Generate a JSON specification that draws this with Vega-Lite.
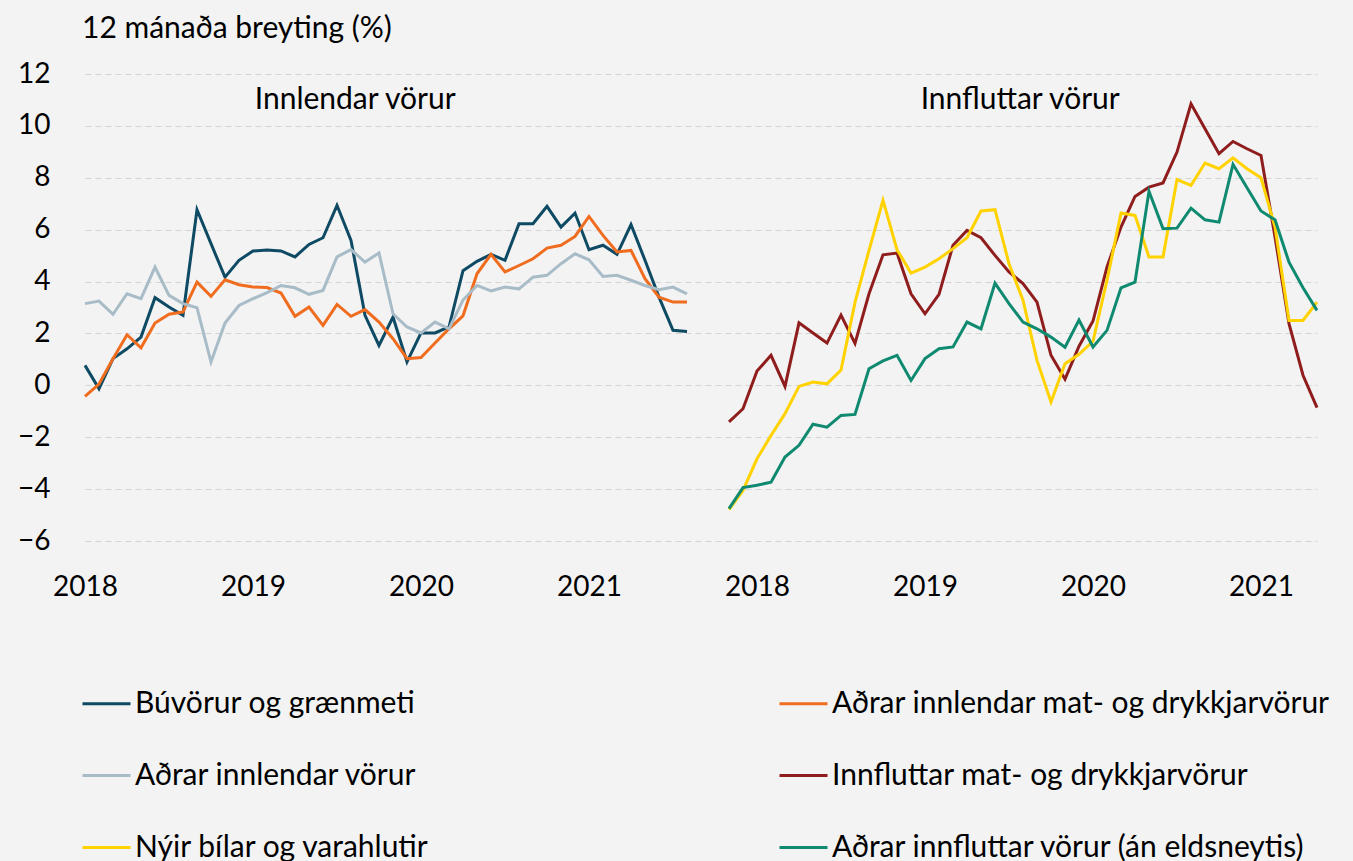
{
  "$schema": "https://vega.github.io/schema/vega-lite/v6.json",
  "width": 1232,
  "height": 493,
  "autosize": {"type": "none"},
  "padding": {"left": 85, "top": 74, "right": 36, "bottom": 294},
  "background": "#f3f3f3",
  "title": {"text": "12 mánaða breyting (%)", "anchor": "start", "frame": "group", "dx": -3, "offset": 16, "fontSize": 30, "font": "Lato", "fontWeight": "normal", "color": "#000000"},
  "config": {
    "view": {"stroke": null},
    "font": "Lato",
    "axis": {"labelFont": "Lato", "labelFontSize": 28, "labelColor": "#000000", "ticks": false, "domain": false, "title": null, "labelFlush": false},
    "legend": {"orient": "none", "legendX": -4, "legendY": 604, "columns": 2, "columnPadding": 343, "rowPadding": 31, "labelFont": "Lato", "labelFontSize": 30, "labelColor": "#000000", "symbolType": "stroke", "symbolSize": 2304, "symbolStrokeWidth": 3, "labelOffset": 3, "title": null, "padding": 0, "labelLimit": 700}
  },
  "datasets": {
    "series": [
      {"p":"inn","s":"Búvörur og grænmeti","m":0,"v":0.77},{"p":"inn","s":"Búvörur og grænmeti","m":1,"v":-0.13},{"p":"inn","s":"Búvörur og grænmeti","m":2,"v":1.03},{"p":"inn","s":"Búvörur og grænmeti","m":3,"v":1.41},{"p":"inn","s":"Búvörur og grænmeti","m":4,"v":1.86},{"p":"inn","s":"Búvörur og grænmeti","m":5,"v":3.38},{"p":"inn","s":"Búvörur og grænmeti","m":6,"v":3.02},{"p":"inn","s":"Búvörur og grænmeti","m":7,"v":2.7},{"p":"inn","s":"Búvörur og grænmeti","m":8,"v":6.77},{"p":"inn","s":"Búvörur og grænmeti","m":9,"v":5.46},{"p":"inn","s":"Búvörur og grænmeti","m":10,"v":4.17},{"p":"inn","s":"Búvörur og grænmeti","m":11,"v":4.82},{"p":"inn","s":"Búvörur og grænmeti","m":12,"v":5.18},{"p":"inn","s":"Búvörur og grænmeti","m":13,"v":5.22},{"p":"inn","s":"Búvörur og grænmeti","m":14,"v":5.18},{"p":"inn","s":"Búvörur og grænmeti","m":15,"v":4.95},{"p":"inn","s":"Búvörur og grænmeti","m":16,"v":5.43},{"p":"inn","s":"Búvörur og grænmeti","m":17,"v":5.69},{"p":"inn","s":"Búvörur og grænmeti","m":18,"v":6.94},{"p":"inn","s":"Búvörur og grænmeti","m":19,"v":5.59},{"p":"inn","s":"Búvörur og grænmeti","m":20,"v":2.7},{"p":"inn","s":"Búvörur og grænmeti","m":21,"v":1.54},{"p":"inn","s":"Búvörur og grænmeti","m":22,"v":2.63},{"p":"inn","s":"Búvörur og grænmeti","m":23,"v":0.9},{"p":"inn","s":"Búvörur og grænmeti","m":24,"v":2.02},{"p":"inn","s":"Búvörur og grænmeti","m":25,"v":2.02},{"p":"inn","s":"Búvörur og grænmeti","m":26,"v":2.25},{"p":"inn","s":"Búvörur og grænmeti","m":27,"v":4.42},{"p":"inn","s":"Búvörur og grænmeti","m":28,"v":4.78},{"p":"inn","s":"Búvörur og grænmeti","m":29,"v":5.05},{"p":"inn","s":"Búvörur og grænmeti","m":30,"v":4.82},{"p":"inn","s":"Búvörur og grænmeti","m":31,"v":6.23},{"p":"inn","s":"Búvörur og grænmeti","m":32,"v":6.23},{"p":"inn","s":"Búvörur og grænmeti","m":33,"v":6.9},{"p":"inn","s":"Búvörur og grænmeti","m":34,"v":6.1},{"p":"inn","s":"Búvörur og grænmeti","m":35,"v":6.64},{"p":"inn","s":"Búvörur og grænmeti","m":36,"v":5.23},{"p":"inn","s":"Búvörur og grænmeti","m":37,"v":5.4},{"p":"inn","s":"Búvörur og grænmeti","m":38,"v":5.05},{"p":"inn","s":"Búvörur og grænmeti","m":39,"v":6.2},{"p":"inn","s":"Búvörur og grænmeti","m":40,"v":4.82},{"p":"inn","s":"Búvörur og grænmeti","m":41,"v":3.4},{"p":"inn","s":"Búvörur og grænmeti","m":42,"v":2.12},{"p":"inn","s":"Búvörur og grænmeti","m":43,"v":2.08},
      {"p":"inn","s":"Aðrar innlendar mat- og drykkjarvörur","m":0,"v":-0.42},{"p":"inn","s":"Aðrar innlendar mat- og drykkjarvörur","m":1,"v":0.05},{"p":"inn","s":"Aðrar innlendar mat- og drykkjarvörur","m":2,"v":1.03},{"p":"inn","s":"Aðrar innlendar mat- og drykkjarvörur","m":3,"v":1.95},{"p":"inn","s":"Aðrar innlendar mat- og drykkjarvörur","m":4,"v":1.45},{"p":"inn","s":"Aðrar innlendar mat- og drykkjarvörur","m":5,"v":2.4},{"p":"inn","s":"Aðrar innlendar mat- og drykkjarvörur","m":6,"v":2.74},{"p":"inn","s":"Aðrar innlendar mat- og drykkjarvörur","m":7,"v":2.83},{"p":"inn","s":"Aðrar innlendar mat- og drykkjarvörur","m":8,"v":3.98},{"p":"inn","s":"Aðrar innlendar mat- og drykkjarvörur","m":9,"v":3.43},{"p":"inn","s":"Aðrar innlendar mat- og drykkjarvörur","m":10,"v":4.07},{"p":"inn","s":"Aðrar innlendar mat- og drykkjarvörur","m":11,"v":3.88},{"p":"inn","s":"Aðrar innlendar mat- og drykkjarvörur","m":12,"v":3.79},{"p":"inn","s":"Aðrar innlendar mat- og drykkjarvörur","m":13,"v":3.77},{"p":"inn","s":"Aðrar innlendar mat- og drykkjarvörur","m":14,"v":3.56},{"p":"inn","s":"Aðrar innlendar mat- og drykkjarvörur","m":15,"v":2.66},{"p":"inn","s":"Aðrar innlendar mat- og drykkjarvörur","m":16,"v":3.02},{"p":"inn","s":"Aðrar innlendar mat- og drykkjarvörur","m":17,"v":2.31},{"p":"inn","s":"Aðrar innlendar mat- og drykkjarvörur","m":18,"v":3.12},{"p":"inn","s":"Aðrar innlendar mat- og drykkjarvörur","m":19,"v":2.66},{"p":"inn","s":"Aðrar innlendar mat- og drykkjarvörur","m":20,"v":2.92},{"p":"inn","s":"Aðrar innlendar mat- og drykkjarvörur","m":21,"v":2.44},{"p":"inn","s":"Aðrar innlendar mat- og drykkjarvörur","m":22,"v":1.8},{"p":"inn","s":"Aðrar innlendar mat- og drykkjarvörur","m":23,"v":1.03},{"p":"inn","s":"Aðrar innlendar mat- og drykkjarvörur","m":24,"v":1.07},{"p":"inn","s":"Aðrar innlendar mat- og drykkjarvörur","m":25,"v":1.63},{"p":"inn","s":"Aðrar innlendar mat- og drykkjarvörur","m":26,"v":2.18},{"p":"inn","s":"Aðrar innlendar mat- og drykkjarvörur","m":27,"v":2.68},{"p":"inn","s":"Aðrar innlendar mat- og drykkjarvörur","m":28,"v":4.3},{"p":"inn","s":"Aðrar innlendar mat- og drykkjarvörur","m":29,"v":5.05},{"p":"inn","s":"Aðrar innlendar mat- og drykkjarvörur","m":30,"v":4.37},{"p":"inn","s":"Aðrar innlendar mat- og drykkjarvörur","m":31,"v":4.62},{"p":"inn","s":"Aðrar innlendar mat- og drykkjarvörur","m":32,"v":4.88},{"p":"inn","s":"Aðrar innlendar mat- og drykkjarvörur","m":33,"v":5.29},{"p":"inn","s":"Aðrar innlendar mat- og drykkjarvörur","m":34,"v":5.4},{"p":"inn","s":"Aðrar innlendar mat- og drykkjarvörur","m":35,"v":5.74},{"p":"inn","s":"Aðrar innlendar mat- og drykkjarvörur","m":36,"v":6.51},{"p":"inn","s":"Aðrar innlendar mat- og drykkjarvörur","m":37,"v":5.78},{"p":"inn","s":"Aðrar innlendar mat- og drykkjarvörur","m":38,"v":5.14},{"p":"inn","s":"Aðrar innlendar mat- og drykkjarvörur","m":39,"v":5.2},{"p":"inn","s":"Aðrar innlendar mat- og drykkjarvörur","m":40,"v":4.11},{"p":"inn","s":"Aðrar innlendar mat- og drykkjarvörur","m":41,"v":3.4},{"p":"inn","s":"Aðrar innlendar mat- og drykkjarvörur","m":42,"v":3.21},{"p":"inn","s":"Aðrar innlendar mat- og drykkjarvörur","m":43,"v":3.21},
      {"p":"inn","s":"Aðrar innlendar vörur","m":0,"v":3.15},{"p":"inn","s":"Aðrar innlendar vörur","m":1,"v":3.25},{"p":"inn","s":"Aðrar innlendar vörur","m":2,"v":2.74},{"p":"inn","s":"Aðrar innlendar vörur","m":3,"v":3.53},{"p":"inn","s":"Aðrar innlendar vörur","m":4,"v":3.34},{"p":"inn","s":"Aðrar innlendar vörur","m":5,"v":4.56},{"p":"inn","s":"Aðrar innlendar vörur","m":6,"v":3.47},{"p":"inn","s":"Aðrar innlendar vörur","m":7,"v":3.15},{"p":"inn","s":"Aðrar innlendar vörur","m":8,"v":2.99},{"p":"inn","s":"Aðrar innlendar vörur","m":9,"v":0.9},{"p":"inn","s":"Aðrar innlendar vörur","m":10,"v":2.4},{"p":"inn","s":"Aðrar innlendar vörur","m":11,"v":3.08},{"p":"inn","s":"Aðrar innlendar vörur","m":12,"v":3.34},{"p":"inn","s":"Aðrar innlendar vörur","m":13,"v":3.57},{"p":"inn","s":"Aðrar innlendar vörur","m":14,"v":3.85},{"p":"inn","s":"Aðrar innlendar vörur","m":15,"v":3.76},{"p":"inn","s":"Aðrar innlendar vörur","m":16,"v":3.51},{"p":"inn","s":"Aðrar innlendar vörur","m":17,"v":3.66},{"p":"inn","s":"Aðrar innlendar vörur","m":18,"v":4.95},{"p":"inn","s":"Aðrar innlendar vörur","m":19,"v":5.23},{"p":"inn","s":"Aðrar innlendar vörur","m":20,"v":4.75},{"p":"inn","s":"Aðrar innlendar vörur","m":21,"v":5.1},{"p":"inn","s":"Aðrar innlendar vörur","m":22,"v":2.76},{"p":"inn","s":"Aðrar innlendar vörur","m":23,"v":2.25},{"p":"inn","s":"Aðrar innlendar vörur","m":24,"v":2.02},{"p":"inn","s":"Aðrar innlendar vörur","m":25,"v":2.44},{"p":"inn","s":"Aðrar innlendar vörur","m":26,"v":2.18},{"p":"inn","s":"Aðrar innlendar vörur","m":27,"v":3.29},{"p":"inn","s":"Aðrar innlendar vörur","m":28,"v":3.85},{"p":"inn","s":"Aðrar innlendar vörur","m":29,"v":3.64},{"p":"inn","s":"Aðrar innlendar vörur","m":30,"v":3.79},{"p":"inn","s":"Aðrar innlendar vörur","m":31,"v":3.72},{"p":"inn","s":"Aðrar innlendar vörur","m":32,"v":4.17},{"p":"inn","s":"Aðrar innlendar vörur","m":33,"v":4.24},{"p":"inn","s":"Aðrar innlendar vörur","m":34,"v":4.69},{"p":"inn","s":"Aðrar innlendar vörur","m":35,"v":5.07},{"p":"inn","s":"Aðrar innlendar vörur","m":36,"v":4.84},{"p":"inn","s":"Aðrar innlendar vörur","m":37,"v":4.2},{"p":"inn","s":"Aðrar innlendar vörur","m":38,"v":4.24},{"p":"inn","s":"Aðrar innlendar vörur","m":39,"v":4.05},{"p":"inn","s":"Aðrar innlendar vörur","m":40,"v":3.85},{"p":"inn","s":"Aðrar innlendar vörur","m":41,"v":3.69},{"p":"inn","s":"Aðrar innlendar vörur","m":42,"v":3.79},{"p":"inn","s":"Aðrar innlendar vörur","m":43,"v":3.53},
      {"p":"ut","s":"Innfluttar mat- og drykkjarvörur","m":-2,"v":-1.41},{"p":"ut","s":"Innfluttar mat- og drykkjarvörur","m":-1,"v":-0.9},{"p":"ut","s":"Innfluttar mat- og drykkjarvörur","m":0,"v":0.55},{"p":"ut","s":"Innfluttar mat- og drykkjarvörur","m":1,"v":1.16},{"p":"ut","s":"Innfluttar mat- og drykkjarvörur","m":2,"v":-0.04},{"p":"ut","s":"Innfluttar mat- og drykkjarvörur","m":3,"v":2.41},{"p":"ut","s":"Innfluttar mat- og drykkjarvörur","m":4,"v":2.02},{"p":"ut","s":"Innfluttar mat- og drykkjarvörur","m":5,"v":1.63},{"p":"ut","s":"Innfluttar mat- og drykkjarvörur","m":6,"v":2.71},{"p":"ut","s":"Innfluttar mat- og drykkjarvörur","m":7,"v":1.62},{"p":"ut","s":"Innfluttar mat- og drykkjarvörur","m":8,"v":3.53},{"p":"ut","s":"Innfluttar mat- og drykkjarvörur","m":9,"v":5.03},{"p":"ut","s":"Innfluttar mat- og drykkjarvörur","m":10,"v":5.1},{"p":"ut","s":"Innfluttar mat- og drykkjarvörur","m":11,"v":3.53},{"p":"ut","s":"Innfluttar mat- og drykkjarvörur","m":12,"v":2.76},{"p":"ut","s":"Innfluttar mat- og drykkjarvörur","m":13,"v":3.51},{"p":"ut","s":"Innfluttar mat- og drykkjarvörur","m":14,"v":5.4},{"p":"ut","s":"Innfluttar mat- og drykkjarvörur","m":15,"v":5.97},{"p":"ut","s":"Innfluttar mat- og drykkjarvörur","m":16,"v":5.69},{"p":"ut","s":"Innfluttar mat- og drykkjarvörur","m":17,"v":5.01},{"p":"ut","s":"Innfluttar mat- og drykkjarvörur","m":18,"v":4.37},{"p":"ut","s":"Innfluttar mat- og drykkjarvörur","m":19,"v":3.92},{"p":"ut","s":"Innfluttar mat- og drykkjarvörur","m":20,"v":3.21},{"p":"ut","s":"Innfluttar mat- og drykkjarvörur","m":21,"v":1.16},{"p":"ut","s":"Innfluttar mat- og drykkjarvörur","m":22,"v":0.24},{"p":"ut","s":"Innfluttar mat- og drykkjarvörur","m":23,"v":1.51},{"p":"ut","s":"Innfluttar mat- og drykkjarvörur","m":24,"v":2.48},{"p":"ut","s":"Innfluttar mat- og drykkjarvörur","m":25,"v":4.56},{"p":"ut","s":"Innfluttar mat- og drykkjarvörur","m":26,"v":6.1},{"p":"ut","s":"Innfluttar mat- og drykkjarvörur","m":27,"v":7.28},{"p":"ut","s":"Innfluttar mat- og drykkjarvörur","m":28,"v":7.64},{"p":"ut","s":"Innfluttar mat- og drykkjarvörur","m":29,"v":7.8},{"p":"ut","s":"Innfluttar mat- og drykkjarvörur","m":30,"v":8.99},{"p":"ut","s":"Innfluttar mat- og drykkjarvörur","m":31,"v":10.85},{"p":"ut","s":"Innfluttar mat- og drykkjarvörur","m":32,"v":9.89},{"p":"ut","s":"Innfluttar mat- og drykkjarvörur","m":33,"v":8.93},{"p":"ut","s":"Innfluttar mat- og drykkjarvörur","m":34,"v":9.4},{"p":"ut","s":"Innfluttar mat- og drykkjarvörur","m":35,"v":9.12},{"p":"ut","s":"Innfluttar mat- og drykkjarvörur","m":36,"v":8.86},{"p":"ut","s":"Innfluttar mat- og drykkjarvörur","m":37,"v":5.72},{"p":"ut","s":"Innfluttar mat- og drykkjarvörur","m":38,"v":2.38},{"p":"ut","s":"Innfluttar mat- og drykkjarvörur","m":39,"v":0.39},{"p":"ut","s":"Innfluttar mat- og drykkjarvörur","m":40,"v":-0.86},
      {"p":"ut","s":"Nýir bílar og varahlutir","m":-2,"v":-4.79},{"p":"ut","s":"Nýir bílar og varahlutir","m":-1,"v":-4.05},{"p":"ut","s":"Nýir bílar og varahlutir","m":0,"v":-2.83},{"p":"ut","s":"Nýir bílar og varahlutir","m":1,"v":-1.93},{"p":"ut","s":"Nýir bílar og varahlutir","m":2,"v":-1.09},{"p":"ut","s":"Nýir bílar og varahlutir","m":3,"v":-0.04},{"p":"ut","s":"Nýir bílar og varahlutir","m":4,"v":0.13},{"p":"ut","s":"Nýir bílar og varahlutir","m":5,"v":0.06},{"p":"ut","s":"Nýir bílar og varahlutir","m":6,"v":0.59},{"p":"ut","s":"Nýir bílar og varahlutir","m":7,"v":3.2},{"p":"ut","s":"Nýir bílar og varahlutir","m":8,"v":5.2},{"p":"ut","s":"Nýir bílar og varahlutir","m":9,"v":7.13},{"p":"ut","s":"Nýir bílar og varahlutir","m":10,"v":5.23},{"p":"ut","s":"Nýir bílar og varahlutir","m":11,"v":4.33},{"p":"ut","s":"Nýir bílar og varahlutir","m":12,"v":4.56},{"p":"ut","s":"Nýir bílar og varahlutir","m":13,"v":4.88},{"p":"ut","s":"Nýir bílar og varahlutir","m":14,"v":5.27},{"p":"ut","s":"Nýir bílar og varahlutir","m":15,"v":5.69},{"p":"ut","s":"Nýir bílar og varahlutir","m":16,"v":6.72},{"p":"ut","s":"Nýir bílar og varahlutir","m":17,"v":6.77},{"p":"ut","s":"Nýir bílar og varahlutir","m":18,"v":4.69},{"p":"ut","s":"Nýir bílar og varahlutir","m":19,"v":3.28},{"p":"ut","s":"Nýir bílar og varahlutir","m":20,"v":0.96},{"p":"ut","s":"Nýir bílar og varahlutir","m":21,"v":-0.64},{"p":"ut","s":"Nýir bílar og varahlutir","m":22,"v":0.83},{"p":"ut","s":"Nýir bílar og varahlutir","m":23,"v":1.2},{"p":"ut","s":"Nýir bílar og varahlutir","m":24,"v":1.7},{"p":"ut","s":"Nýir bílar og varahlutir","m":25,"v":4.05},{"p":"ut","s":"Nýir bílar og varahlutir","m":26,"v":6.64},{"p":"ut","s":"Nýir bílar og varahlutir","m":27,"v":6.55},{"p":"ut","s":"Nýir bílar og varahlutir","m":28,"v":4.95},{"p":"ut","s":"Nýir bílar og varahlutir","m":29,"v":4.95},{"p":"ut","s":"Nýir bílar og varahlutir","m":30,"v":7.93},{"p":"ut","s":"Nýir bílar og varahlutir","m":31,"v":7.71},{"p":"ut","s":"Nýir bílar og varahlutir","m":32,"v":8.57},{"p":"ut","s":"Nýir bílar og varahlutir","m":33,"v":8.35},{"p":"ut","s":"Nýir bílar og varahlutir","m":34,"v":8.77},{"p":"ut","s":"Nýir bílar og varahlutir","m":35,"v":8.35},{"p":"ut","s":"Nýir bílar og varahlutir","m":36,"v":8.0},{"p":"ut","s":"Nýir bílar og varahlutir","m":37,"v":6.1},{"p":"ut","s":"Nýir bílar og varahlutir","m":38,"v":2.5},{"p":"ut","s":"Nýir bílar og varahlutir","m":39,"v":2.5},{"p":"ut","s":"Nýir bílar og varahlutir","m":40,"v":3.21},
      {"p":"ut","s":"Aðrar innfluttar vörur (án eldsneytis)","m":-2,"v":-4.75},{"p":"ut","s":"Aðrar innfluttar vörur (án eldsneytis)","m":-1,"v":-3.94},{"p":"ut","s":"Aðrar innfluttar vörur (án eldsneytis)","m":0,"v":-3.85},{"p":"ut","s":"Aðrar innfluttar vörur (án eldsneytis)","m":1,"v":-3.73},{"p":"ut","s":"Aðrar innfluttar vörur (án eldsneytis)","m":2,"v":-2.76},{"p":"ut","s":"Aðrar innfluttar vörur (án eldsneytis)","m":3,"v":-2.31},{"p":"ut","s":"Aðrar innfluttar vörur (án eldsneytis)","m":4,"v":-1.5},{"p":"ut","s":"Aðrar innfluttar vörur (án eldsneytis)","m":5,"v":-1.61},{"p":"ut","s":"Aðrar innfluttar vörur (án eldsneytis)","m":6,"v":-1.16},{"p":"ut","s":"Aðrar innfluttar vörur (án eldsneytis)","m":7,"v":-1.12},{"p":"ut","s":"Aðrar innfluttar vörur (án eldsneytis)","m":8,"v":0.64},{"p":"ut","s":"Aðrar innfluttar vörur (án eldsneytis)","m":9,"v":0.94},{"p":"ut","s":"Aðrar innfluttar vörur (án eldsneytis)","m":10,"v":1.16},{"p":"ut","s":"Aðrar innfluttar vörur (án eldsneytis)","m":11,"v":0.19},{"p":"ut","s":"Aðrar innfluttar vörur (án eldsneytis)","m":12,"v":1.03},{"p":"ut","s":"Aðrar innfluttar vörur (án eldsneytis)","m":13,"v":1.41},{"p":"ut","s":"Aðrar innfluttar vörur (án eldsneytis)","m":14,"v":1.48},{"p":"ut","s":"Aðrar innfluttar vörur (án eldsneytis)","m":15,"v":2.44},{"p":"ut","s":"Aðrar innfluttar vörur (án eldsneytis)","m":16,"v":2.18},{"p":"ut","s":"Aðrar innfluttar vörur (án eldsneytis)","m":17,"v":3.94},{"p":"ut","s":"Aðrar innfluttar vörur (án eldsneytis)","m":18,"v":3.15},{"p":"ut","s":"Aðrar innfluttar vörur (án eldsneytis)","m":19,"v":2.44},{"p":"ut","s":"Aðrar innfluttar vörur (án eldsneytis)","m":20,"v":2.18},{"p":"ut","s":"Aðrar innfluttar vörur (án eldsneytis)","m":21,"v":1.86},{"p":"ut","s":"Aðrar innfluttar vörur (án eldsneytis)","m":22,"v":1.47},{"p":"ut","s":"Aðrar innfluttar vörur (án eldsneytis)","m":23,"v":2.52},{"p":"ut","s":"Aðrar innfluttar vörur (án eldsneytis)","m":24,"v":1.48},{"p":"ut","s":"Aðrar innfluttar vörur (án eldsneytis)","m":25,"v":2.12},{"p":"ut","s":"Aðrar innfluttar vörur (án eldsneytis)","m":26,"v":3.76},{"p":"ut","s":"Aðrar innfluttar vörur (án eldsneytis)","m":27,"v":3.98},{"p":"ut","s":"Aðrar innfluttar vörur (án eldsneytis)","m":28,"v":7.48},{"p":"ut","s":"Aðrar innfluttar vörur (án eldsneytis)","m":29,"v":6.04},{"p":"ut","s":"Aðrar innfluttar vörur (án eldsneytis)","m":30,"v":6.06},{"p":"ut","s":"Aðrar innfluttar vörur (án eldsneytis)","m":31,"v":6.83},{"p":"ut","s":"Aðrar innfluttar vörur (án eldsneytis)","m":32,"v":6.38},{"p":"ut","s":"Aðrar innfluttar vörur (án eldsneytis)","m":33,"v":6.29},{"p":"ut","s":"Aðrar innfluttar vörur (án eldsneytis)","m":34,"v":8.52},{"p":"ut","s":"Aðrar innfluttar vörur (án eldsneytis)","m":35,"v":7.62},{"p":"ut","s":"Aðrar innfluttar vörur (án eldsneytis)","m":36,"v":6.72},{"p":"ut","s":"Aðrar innfluttar vörur (án eldsneytis)","m":37,"v":6.38},{"p":"ut","s":"Aðrar innfluttar vörur (án eldsneytis)","m":38,"v":4.75},{"p":"ut","s":"Aðrar innfluttar vörur (án eldsneytis)","m":39,"v":3.76},{"p":"ut","s":"Aðrar innfluttar vörur (án eldsneytis)","m":40,"v":2.89}
    ],
    "labels": [
      {"label": "Innlendar vörur", "x": 19.3, "y": 10.98},
      {"label": "Innfluttar vörur", "x": 66.8, "y": 10.98}
    ]
  },
  "layer": [
    {
      "data": {"name": "series"},
      "transform": [{"calculate": "datum.p == 'ut' ? datum.m + 48 : datum.m", "as": "x"}],
      "mark": {"type": "line", "strokeWidth": 3},
      "encoding": {
        "x": {"field": "x", "type": "quantitative", "scale": {"domain": [0, 88], "nice": false, "zero": false},
              "axis": {"values": [0, 12, 24, 36, 48, 60, 72, 84], "grid": false, "labelPadding": 6,
                       "labelExpr": "datum.value < 44 ? format(2018 + datum.value / 12, 'd') : format(2018 + (datum.value - 48) / 12, 'd')"}},
        "y": {"field": "v", "type": "quantitative", "scale": {"domain": [-7, 12], "nice": false, "zero": false},
              "axis": {"values": [-6, -4, -2, 0, 2, 4, 6, 8, 10, 12], "grid": true, "gridColor": "#d4d4d4", "gridDash": [6, 4], "gridWidth": 1, "labelPadding": 35}},
        "color": {"field": "s", "type": "nominal",
                  "scale": {"domain": ["Búvörur og grænmeti", "Aðrar innlendar vörur", "Nýir bílar og varahlutir", "Aðrar innlendar mat- og drykkjarvörur", "Innfluttar mat- og drykkjarvörur", "Aðrar innfluttar vörur (án eldsneytis)"],
                            "range": ["#0e4a63", "#a8bcc8", "#ffd200", "#f06c1e", "#8f1d1d", "#0f8a70"]}},
        "detail": {"field": "p"}
      }
    },
    {
      "mark": {"type": "rule", "color": "#000000", "strokeWidth": 2},
      "encoding": {"y": {"datum": 0}}
    },
    {
      "mark": {"type": "rule", "color": "#000000", "strokeWidth": 2},
      "encoding": {"x": {"datum": 44.71}, "y": {"datum": 12.14}, "x2": {"datum": 44.12}, "y2": {"datum": -7.24}}
    },
    {
      "data": {"name": "labels"},
      "mark": {"type": "text", "font": "Lato", "fontSize": 30, "color": "#000000", "align": "center", "baseline": "middle"},
      "encoding": {"x": {"field": "x", "type": "quantitative"}, "y": {"field": "y", "type": "quantitative"}, "text": {"field": "label"}}
    }
  ]
}
